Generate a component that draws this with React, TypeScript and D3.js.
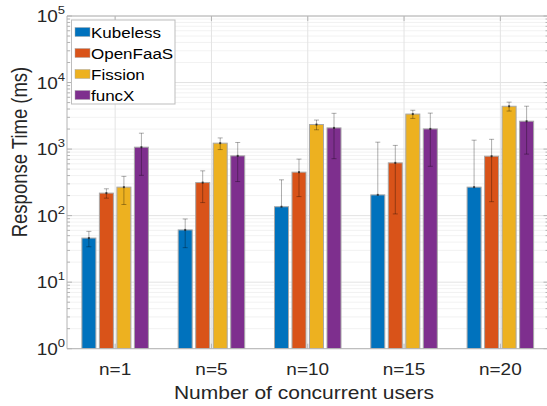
import React from "react";
import * as d3 from "d3";

const categories = ["n=1", "n=5", "n=10", "n=15", "n=20"];
const seriesNames = ["Kubeless", "OpenFaaS", "Fission", "funcX"];
const kubeless = [46, 61, 136, 205, 268];
const kubelessErr = [12, 28, 209, 1065, 1093];
const openfaas = [218, 314, 450, 621, 782];
const openfaasErr = [35, 157, 257, 515, 620];
const fission = [268, 1227, 2340, 3360, 4400];
const fissionErr = [121, 244, 390, 470, 675];
const funcx = [1068, 791, 2082, 2011, 2624];
const funcxErr = [665, 466, 1365, 1460, 1784];
const yTickExponents = [0, 1, 2, 3, 4, 5];

const seriesValues = [kubeless, openfaas, fission, funcx];
const seriesErrors = [kubelessErr, openfaasErr, fissionErr, funcxErr];
const colors = ["#0072BD", "#D95319", "#EDB120", "#7E2F8E"];

const W = 547;
const H = 406;
const left = 67;
const right = 548.5;
const top = 16;
const bottom = 348.7;
const SQ = 0.86;
const FONT = "'Liberation Sans', Arial, Helvetica, sans-serif";

export default function App() {
  const x = d3.scaleLinear().domain([0.5, 5.5]).range([left, right]);
  const y = d3.scaleLog().domain([1, 1e5]).range([bottom, top]);
  const unit = x(2) - x(1);
  const pitch = 0.1818;
  const barW = pitch * 0.8 * unit;

  const minorVals: number[] = [];
  for (let e = 0; e < 5; e++) {
    for (let m = 2; m <= 9; m++) minorVals.push(m * Math.pow(10, e));
  }
  const majorVals = yTickExponents.map((e) => Math.pow(10, e));

  const gridColor = "#e3e3e3";
  const minorGrid = "#efefef";
  const axisColor = "#b4b4b4";

  return (
    <div>
      <style>{`body{margin:0}`}</style>
      <svg width={W} height={H} style={{ display: "block", fontFamily: FONT }}>
        <rect x={0} y={0} width={W} height={H} fill="#fff" />
        <defs>
          <clipPath id="plotclip">
            <rect x={left} y={top} width={right - left} height={bottom - top} />
          </clipPath>
        </defs>
        {minorVals.map((v, i) => (
          <line key={"mg" + i} x1={left} x2={right} y1={y(v)} y2={y(v)} stroke={minorGrid} strokeWidth={0.8} />
        ))}
        {majorVals.map((v, i) => (
          <line key={"g" + i} x1={left} x2={right} y1={y(v)} y2={y(v)} stroke={gridColor} strokeWidth={1} />
        ))}
        {categories.map((c, i) => (
          <line key={"vg" + i} x1={x(i + 1)} x2={x(i + 1)} y1={top} y2={bottom} stroke={gridColor} strokeWidth={1} />
        ))}
        <g clipPath="url(#plotclip)">
          {seriesValues.map((vals, s) =>
            vals.map((v, i) => {
              const cx = x(i + 1 + (s - 1.5) * pitch);
              return (
                <rect
                  key={"b" + s + "-" + i}
                  x={cx - barW / 2}
                  y={y(v)}
                  width={barW}
                  height={bottom - y(v)}
                  fill={colors[s]}
                  stroke="#a8a8a8"
                  strokeWidth={1}
                />
              );
            })
          )}
          {seriesValues.map((vals, s) =>
            vals.map((v, i) => {
              const cx = x(i + 1 + (s - 1.5) * pitch);
              const err = seriesErrors[s][i];
              const hi = v + err;
              const lo = v - err;
              const yHi = y(hi);
              const yLo = lo > 0 ? y(lo) : y(v);
              return (
                <g key={"e" + s + "-" + i} stroke="#000" strokeOpacity={0.32} strokeWidth={1}>
                  <line x1={cx} x2={cx} y1={yHi} y2={yLo} />
                  <line x1={cx - 2.5} x2={cx + 2.5} y1={yHi} y2={yHi} />
                  {lo > 0 && <line x1={cx - 2.5} x2={cx + 2.5} y1={yLo} y2={yLo} />}
                  <rect x={cx - 1} y={y(v) - 1} width={2} height={2} fill="#000" fillOpacity={0.6} stroke="none" />
                </g>
              );
            })
          )}
        </g>
        <g stroke={axisColor} strokeWidth={1} fill="none">
          <line x1={left} x2={right} y1={top} y2={top} />
          <line x1={left} x2={right} y1={bottom} y2={bottom} />
          <line x1={left} x2={left} y1={top} y2={bottom} />
          <line x1={right} x2={right} y1={top} y2={bottom} />
          {categories.map((c, i) => (
            <g key={"xt" + i}>
              <line x1={x(i + 1)} x2={x(i + 1)} y1={bottom} y2={bottom - 5} />
              <line x1={x(i + 1)} x2={x(i + 1)} y1={top} y2={top + 5} />
            </g>
          ))}
          {majorVals.map((v, i) => (
            <g key={"yt" + i}>
              <line x1={left} x2={left + 5} y1={y(v)} y2={y(v)} />
              <line x1={right} x2={right - 5} y1={y(v)} y2={y(v)} />
            </g>
          ))}
          {minorVals.map((v, i) => (
            <g key={"ymt" + i}>
              <line x1={left} x2={left + 3} y1={y(v)} y2={y(v)} />
              <line x1={right} x2={right - 3} y1={y(v)} y2={y(v)} />
            </g>
          ))}
        </g>
        {yTickExponents.map((e, i) => (
          <text
            key={"yl" + i}
            transform={`translate(${left - 2},${y(Math.pow(10, e)) + 6}) scale(1,${SQ})`}
            textAnchor="end"
            fontSize={19}
            fill="#262626"
          >
            10
            <tspan dy={-9} fontSize={13}>
              {e}
            </tspan>
          </text>
        ))}
        {categories.map((c, i) => (
          <text
            key={"xl" + i}
            transform={`translate(${x(i + 1)},${bottom + 26}) scale(1,${SQ})`}
            textAnchor="middle"
            fontSize={19}
            fill="#262626"
          >
            {c}
          </text>
        ))}
        <text
          transform={`translate(304,${398.5}) scale(1,${SQ})`}
          textAnchor="middle"
          fontSize={21}
          fill="#262626"
        >
          Number of concurrent users
        </text>
        <text
          transform={`translate(27,152) rotate(-90) scale(${SQ},1)`}
          textAnchor="middle"
          fontSize={21.5}
          fill="#262626"
        >
          Response Time (ms)
        </text>
        <g>
          <rect x={71.5} y={20} width={103.5} height={84} fill="#fff" stroke="#bdbdbd" strokeWidth={1} />
          {seriesNames.map((n, i) => {
            const cy = 32 + i * 21;
            return (
              <g key={"lg" + i}>
                <rect x={75} y={cy - 4.5} width={15} height={9} fill={colors[i]} stroke="#a8a8a8" strokeWidth={0.5} />
                <text
                  transform={`translate(91,${cy + 6}) scale(1,${SQ})`}
                  fontSize={17}
                  fill="#000"
                >
                  {n}
                </text>
              </g>
            );
          })}
        </g>
      </svg>
    </div>
  );
}
